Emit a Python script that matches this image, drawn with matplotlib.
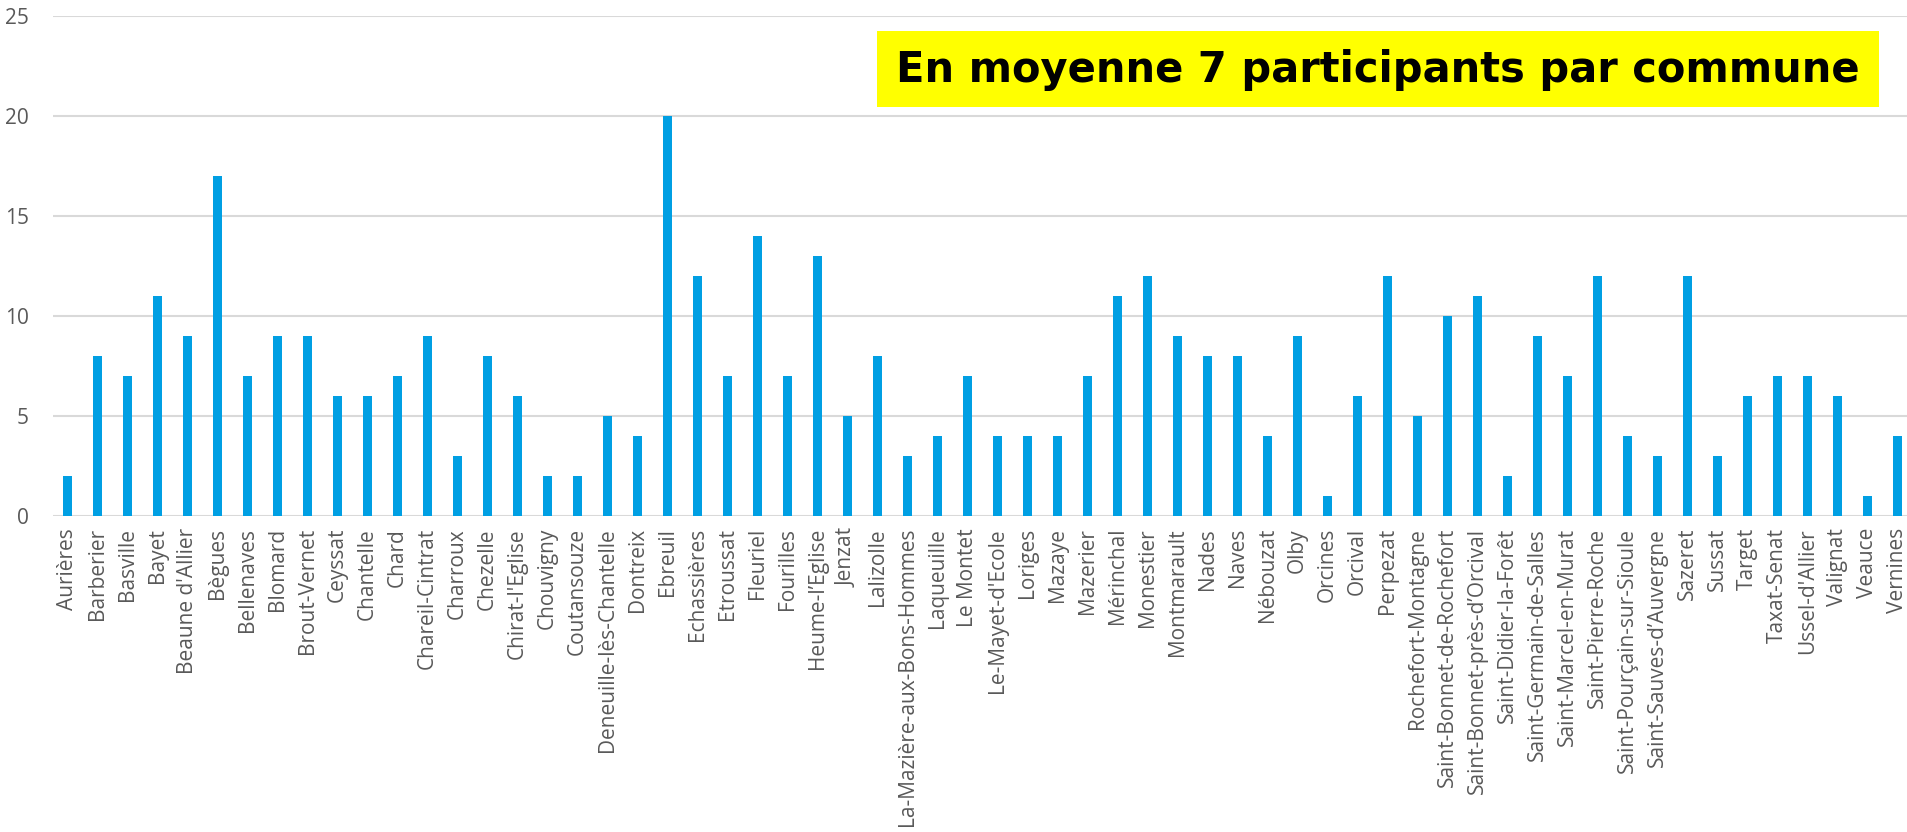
import matplotlib.pyplot as plt
from matplotlib.patches import Rectangle

# communes et nombre de participants
communes = [
    "Aurières", "Barberier", "Basville", "Bayet", "Beaune d'Allier", "Bègues",
    "Bellenaves", "Blomard", "Brout-Vernet", "Ceyssat", "Chantelle", "Chard",
    "Chareil-Cintrat", "Charroux", "Chezelle", "Chirat-l'Eglise", "Chouvigny",
    "Coutansouze", "Deneuille-lès-Chantelle", "Dontreix", "Ebreuil",
    "Echassières", "Etroussat", "Fleuriel", "Fourilles", "Heume-l’Eglise",
    "Jenzat", "Lalizolle", "La-Mazière-aux-Bons-Hommes", "Laqueuille",
    "Le Montet", "Le-Mayet-d'Ecole", "Loriges", "Mazaye", "Mazerier",
    "Mérinchal", "Monestier", "Montmarault", "Nades", "Naves", "Nébouzat",
    "Olby", "Orcines", "Orcival", "Perpezat", "Rochefort-Montagne",
    "Saint-Bonnet-de-Rochefort", "Saint-Bonnet-près-d’Orcival",
    "Saint-Didier-la-Forêt", "Saint-Germain-de-Salles", "Saint-Marcel-en-Murat",
    "Saint-Pierre-Roche", "Saint-Pourçain-sur-Sioule", "Saint-Sauves-d’Auvergne",
    "Sazeret", "Sussat", "Target", "Taxat-Senat", "Ussel-d'Allier", "Valignat",
    "Veauce", "Vernines",
]
participants = [
    2, 8, 7, 11, 9, 17,
    7, 9, 9, 6, 6, 7,
    9, 3, 8, 6, 2,
    2, 5, 4, 20,
    12, 7, 14, 7, 13,
    5, 8, 3, 4,
    7, 4, 4, 4, 7,
    11, 12, 9, 8, 8, 4,
    9, 1, 6, 12, 5,
    10, 11,
    2, 9, 7,
    12, 4, 3,
    12, 3, 6, 7, 7, 6,
    1, 4,
]
y_ticks = [0, 5, 10, 15, 20, 25]
annotation = "En moyenne 7 participants par commune"

W, H = 1907, 832
fig = plt.figure(figsize=(W / 100, H / 100), dpi=100)
ax = fig.add_axes([52.5 / W, (H - 515.5) / H, 1860 / W, 499.5 / H])

x = range(len(communes))
ax.bar(x, participants, width=0.3, color="#009FE3", zorder=3)
ax.set_xlim(-0.5, len(communes) - 0.5)
ax.set_ylim(0, 25)
ax.set_yticks(y_ticks)
ax.set_xticks(list(x))
ax.set_xticklabels(communes, rotation=90, fontfamily="Open Sans",
                   fontsize=15, color="#595959")
ax.tick_params(axis="y", length=0, pad=17, labelsize=15, labelcolor="#595959")
ax.tick_params(axis="x", length=0, pad=9)
for t in ax.get_yticklabels():
    t.set_fontfamily("Open Sans")
ax.yaxis.grid(True, color="#D9D9D9", linewidth=1.5, zorder=0)
for s in ax.spines.values():
    s.set_visible(False)

# encadré jaune
fig.patches.append(Rectangle((877 / W, 1 - 107 / H), 1002 / W, 76 / H,
                             transform=fig.transFigure, facecolor="#FFFF00",
                             edgecolor="none", zorder=5))
fig.text(1378 / W, 1 - 70 / H, annotation, ha="center", va="center",
         fontsize=30, fontweight="bold", fontfamily="DejaVu Sans",
         color="black", zorder=6)

fig.savefig("out.png", dpi=100)
